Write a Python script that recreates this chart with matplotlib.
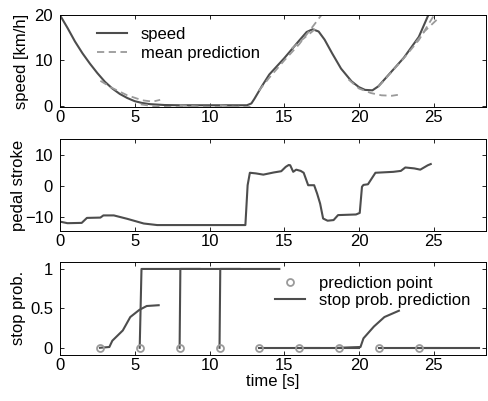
import numpy as np
import matplotlib
matplotlib.use("Agg")
import matplotlib.pyplot as plt

plt.rcParams['font.family'] = ['Liberation Sans', 'DejaVu Sans']
plt.rcParams['font.size'] = 12

# speed [km/h]
speed_t = [0, 0.5, 1, 1.5, 2, 2.5, 3, 3.5, 4, 4.5, 5, 5.5, 6, 7, 8, 10, 12.5, 12.8, 13, 13.5,
           14, 15, 16, 16.5, 16.9, 17.3, 17.7, 18.2, 18.8, 19.5, 20, 20.4, 20.9, 21.3, 22, 23, 24, 24.7]
speed_v = [20, 17.2, 14.2, 11.6, 9.3, 7.2, 5.3, 3.8, 2.6, 1.7, 1.0, 0.6, 0.35, 0.15, 0.1, 0.1, 0.1, 0.5, 1.5, 4.3,
           6.9, 10.5, 14.4, 16.3, 16.9, 16.4, 14.6, 11.6, 8.2, 5.4, 4.1, 3.5, 3.4, 4.3, 6.9, 10.6, 15.2, 20.5]

# mean predictions (dashed), one list pair per prediction
pred_t = [
    [2.7, 3.5, 4.5, 5.5, 6.2, 6.7],
    [5.4, 6.5, 8.0, 9.3],
    [8.0, 9.5, 11.0, 12.0],
    [10.7, 11.5, 12.5, 13.0],
    [13.3, 14.0, 15.0, 16.0, 17.0, 17.5],
    [15.5, 16.2, 16.8, 17.3],
    [19.3, 20.0, 20.8, 21.5, 22.2, 22.6],
    [21.3, 22.0, 23.0, 24.0, 25.0],
    [23.8, 24.4, 25.3],
]
pred_v = [
    [5.5, 3.9, 2.3, 1.2, 0.9, 1.3],
    [0.3, -0.25, -0.3, -0.2],
    [0.1, -0.2, -0.3, -0.2],
    [0.1, -0.2, -0.3, -0.2],
    [3.3, 6.2, 10.0, 13.6, 17.9, 20.1],
    [12.6, 14.6, 16.2, 17.6],
    [5.8, 3.8, 2.8, 2.3, 2.2, 2.4],
    [4.2, 6.8, 10.5, 14.5, 19.9],
    [14.0, 16.5, 19.3],
]

# pedal stroke
pedal_t = [0, 0.5, 1.45, 1.8, 2.7, 2.9, 3.6, 4.5, 5.6, 6.5, 9.0, 12.4, 12.55, 12.7, 13.1, 13.6,
           14.3, 14.8, 15.1, 15.3, 15.4, 15.6, 15.8, 16.1, 16.3, 16.6, 17.0, 17.2, 17.4, 17.6, 17.9,
           18.3, 18.6, 19.8, 20.05, 20.2, 20.3, 20.6, 21.1, 22.3, 22.8, 23.1, 23.7, 24.1, 24.6, 24.8]
pedal_v = [-11.5, -12.0, -11.9, -10.3, -10.2, -9.5, -9.5, -10.6, -12.1, -12.6, -12.6, -12.6, 0.2, 4.2, 4.0, 3.6,
           4.3, 4.7, 6.1, 6.7, 6.6, 4.5, 5.2, 4.8, 4.2, 0.2, 0.2, -2.5, -5.7, -10.5, -11.2,
           -11.0, -9.4, -9.2, -8.7, -0.3, 0.3, 0.5, 4.2, 4.5, 4.8, 5.9, 5.6, 5.2, 6.6, 7.0]

# stop probability predictions
point_t = [2.67, 5.33, 8.0, 10.67, 13.33, 16.0, 18.67, 21.33, 24.0]
point_v = [0, 0, 0, 0, 0, 0, 0, 0, 0]
prob_t = [
    [2.67, 3.3, 3.5, 4.2, 4.7, 5.3, 5.8, 6.6],
    [5.33, 5.45, 9.33],
    [8.0, 8.05, 12.0],
    [10.67, 10.72, 14.67],
    [13.33, 17.33],
    [16.0, 20.0],
    [18.67, 20.1, 20.3, 21.0, 21.7, 22.67],
    [21.33, 25.33],
    [24.0, 28.0],
]
prob_v = [
    [0, 0.01, 0.09, 0.22, 0.39, 0.48, 0.53, 0.54],
    [0, 1, 1],
    [0, 1, 1],
    [0, 1, 1],
    [0, 0],
    [0, 0],
    [0, 0.01, 0.12, 0.27, 0.39, 0.47],
    [0, 0],
    [0, 0],
]

dark = '#4d4d4d'
light = '#9a9a9a'

fig = plt.figure(figsize=(4.88, 4.01), dpi=100)
ax1 = fig.add_axes([0.123, 0.733, 0.873, 0.229])
ax2 = fig.add_axes([0.123, 0.424, 0.873, 0.229])
ax3 = fig.add_axes([0.123, 0.115, 0.873, 0.232])

ax1.plot(speed_t, speed_v, color=dark, lw=1.5, label='speed')
for i in range(len(pred_t)):
    ax1.plot(pred_t[i], pred_v[i], color=light, lw=1.3, ls=(0, (4, 2.5)),
             label='mean prediction' if i == 0 else None)
ax1.set_ylim(-0.3, 20)
ax1.set_yticks([0, 10, 20])
ax1.set_ylabel('speed [km/h]')
ax1.yaxis.set_label_coords(-0.072, 0.5)
ax1.legend(loc='upper left', frameon=False, bbox_to_anchor=(0.06, 1.0),
           handlelength=1.8, handletextpad=0.8, labelspacing=0.25, borderaxespad=0.3)

ax2.plot(pedal_t, pedal_v, color=dark, lw=1.5)
ax2.set_ylim(-14.5, 15)
ax2.set_yticks([-10, 0, 10])
ax2.set_ylabel('pedal stroke')
ax2.yaxis.set_label_coords(-0.08, 0.5)

ax3.plot(point_t, point_v, ls='none', marker='o', ms=5, mfc='none', mec=light, mew=1.3,
         label='prediction point', zorder=3)
for i in range(len(prob_t)):
    ax3.plot(prob_t[i], prob_v[i], color=dark, lw=1.5,
             label='stop prob. prediction' if i == 0 else None)
ax3.set_ylim(-0.09, 1.09)
ax3.set_yticks([0, 0.5, 1])
ax3.set_yticklabels(['0', '0.5', '1'])
ax3.set_ylabel('stop prob.')
ax3.yaxis.set_label_coords(-0.08, 0.5)
ax3.set_xlabel('time [s]', labelpad=1)
ax3.legend(loc='upper right', frameon=False, bbox_to_anchor=(0.99, 0.975),
           handlelength=1.8, handletextpad=0.8, labelspacing=0.1, borderaxespad=0.3)

for ax in (ax1, ax2, ax3):
    ax.set_xlim(0, 28.5)
    ax.set_xticks([0, 5, 10, 15, 20, 25])
    ax.tick_params(direction='in', top=True, right=True, length=3, width=0.6)
    ax.tick_params(axis='x', pad=2)
    ax.tick_params(axis='y', pad=5)
    for s in ax.spines.values():
        s.set_linewidth(0.7)

fig.savefig('out.png', dpi=100)
